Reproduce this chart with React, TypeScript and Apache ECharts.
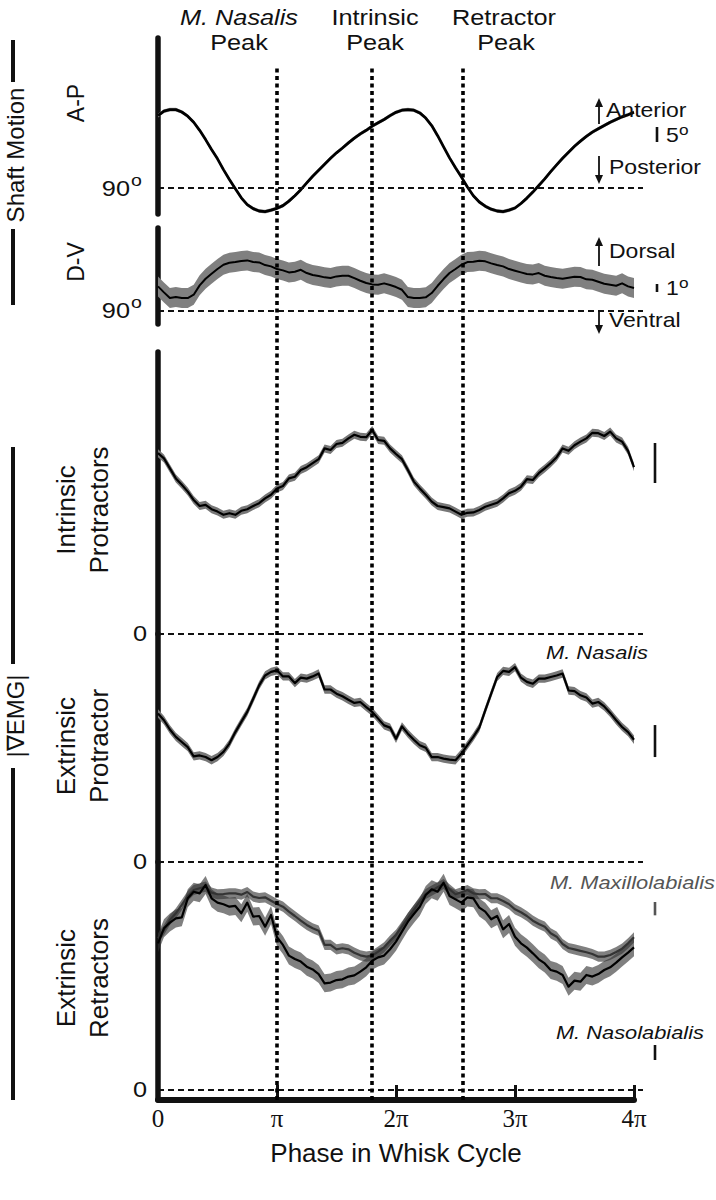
import React, { useEffect, useRef } from 'react';
import * as echarts from 'echarts';

// Phase in whisk cycle, in units of pi
const PHASE = [
  0, 0.05, 0.1, 0.15, 0.2, 0.25, 0.3, 0.35, 0.4, 0.45,
  0.5, 0.55, 0.6, 0.65, 0.7, 0.75, 0.8, 0.85, 0.9, 0.95,
  1.0, 1.05, 1.1, 1.15, 1.2, 1.25, 1.3, 1.35, 1.4, 1.45,
  1.5, 1.55, 1.6, 1.65, 1.7, 1.75, 1.8, 1.85, 1.9, 1.95,
  2.0, 2.05, 2.1, 2.15, 2.2, 2.25, 2.3, 2.35, 2.4, 2.45,
  2.5, 2.55, 2.6, 2.65, 2.7, 2.75, 2.8, 2.85, 2.9, 2.95,
  3.0, 3.05, 3.1, 3.15, 3.2, 3.25, 3.3, 3.35, 3.4, 3.45,
  3.5, 3.55, 3.6, 3.65, 3.7, 3.75, 3.8, 3.85, 3.9, 3.95,
  4.0,
];

// Shaft motion, anterior-posterior angle (deg)
const AP_DEG = [
  114.1, 115.6, 116.1, 116.1, 115.3, 113.9, 111.9, 109.2, 106.1, 102.8,
  99.7, 96.1, 92.8, 89.7, 86.7, 84.4, 83.1, 82.3, 82.1, 82.6,
  83.2, 84.1, 85.6, 87.4, 89.4, 91.7, 93.9, 95.9, 97.9, 99.9,
  101.7, 103.3, 105.0, 106.6, 108.0, 109.2, 110.6, 111.7, 112.8, 114.1,
  115.2, 115.9, 116.1, 115.9, 115.0, 113.3, 110.8, 107.4, 103.7, 100.0,
  96.7, 93.6, 90.3, 87.4, 85.3, 83.9, 82.9, 82.3, 82.1, 82.6,
  83.3, 84.8, 86.6, 88.6, 90.8, 93.0, 95.4, 97.7, 99.9, 101.9,
  103.9, 105.6, 107.2, 108.6, 109.7, 110.8, 111.9, 112.8, 113.7, 114.4,
  115.2,
];

// Shaft motion, dorsal-ventral angle (deg)
const DV_DEG = [
  93.0, 92.25, 91.54, 91.67, 91.54, 91.54, 91.96, 93.13, 93.96, 94.58,
  95.17, 95.71, 95.96, 96.04, 96.17, 96.25, 96.04, 96.0, 95.67, 95.5,
  95.17, 95.0, 94.75, 94.83, 95.08, 94.67, 94.42, 94.29, 94.13, 94.04,
  94.25, 94.33, 94.33, 94.04, 93.71, 93.42, 93.25, 93.21, 93.38, 93.17,
  92.92, 92.58, 91.67, 91.54, 91.54, 91.63, 92.17, 93.08, 93.92, 94.67,
  95.17, 95.71, 96.04, 96.08, 96.21, 96.13, 95.88, 95.67, 95.5, 95.17,
  94.96, 94.75, 94.54, 94.5, 94.67, 94.33, 94.17, 94.04, 93.96, 94.08,
  94.21, 94.17, 93.88, 93.83, 93.58, 93.33, 93.21, 93.08, 93.38, 93.0,
  92.79,
];

// |grad EMG| in scale-bar units
const INTRINSIC = [
  4.52, 4.39, 4.14, 3.89, 3.73, 3.56, 3.35, 3.2, 3.23, 3.12,
  3.06, 2.98, 3.02, 2.98, 3.08, 3.12, 3.2, 3.27, 3.39, 3.48,
  3.64, 3.7, 3.89, 3.93, 4.1, 4.17, 4.27, 4.37, 4.64, 4.6,
  4.75, 4.78, 4.89, 4.98, 4.93, 4.92, 5.1, 4.85, 4.83, 4.64,
  4.5, 4.37, 4.1, 3.81, 3.64, 3.48, 3.31, 3.2, 3.17, 3.14,
  3.06, 2.98, 3.03, 3.04, 3.1, 3.18, 3.23, 3.28, 3.39, 3.52,
  3.58, 3.68, 3.87, 3.85, 4.02, 4.14, 4.27, 4.42, 4.64, 4.58,
  4.72, 4.81, 4.89, 5.03, 5.02, 4.95, 5.06, 4.89, 4.81, 4.58,
  4.17,
];

const NASALIS = [
  4.64, 4.43, 4.14, 3.91, 3.75, 3.59, 3.3, 3.33, 3.28, 3.18,
  3.28, 3.44, 3.7, 4.06, 4.38, 4.69, 5.1, 5.52, 5.83, 5.94,
  5.99, 5.8, 5.8, 5.59, 5.76, 5.73, 5.8, 5.89, 5.39, 5.39,
  5.26, 5.18, 5.07, 4.97, 5.0, 4.84, 4.69, 4.48, 4.27, 4.2,
  3.85, 4.24, 4.01, 3.82, 3.65, 3.57, 3.28, 3.28, 3.23, 3.2,
  3.18, 3.39, 3.65, 3.91, 4.2, 4.74, 5.26, 5.78, 5.97, 5.94,
  6.09, 5.76, 5.63, 5.57, 5.73, 5.73, 5.78, 5.83, 5.89, 5.36,
  5.34, 5.21, 5.14, 4.95, 5.0, 4.86, 4.66, 4.43, 4.22, 4.06,
  3.82,
];

const NASOLABIALIS = [
  9.78, 10.78, 11.16, 11.44, 11.51, 12.78, 13.22, 13.11, 13.67, 12.78,
  12.49, 12.38, 12.22, 12.27, 11.78, 12.49, 11.56, 11.6, 10.89, 11.67,
  10.18, 9.67, 8.96, 8.73, 8.56, 8.22, 8.04, 7.73, 7.11, 7.16,
  7.33, 7.38, 7.56, 7.64, 7.89, 8.18, 8.62, 8.84, 8.96, 9.38,
  9.89, 10.56, 11.22, 11.73, 12.22, 13.0, 13.38, 13.22, 13.82, 12.93,
  12.71, 12.49, 12.84, 12.78, 12.16, 11.89, 11.38, 11.6, 10.71, 11.07,
  10.22, 9.78, 9.49, 9.11, 8.71, 8.44, 8.0, 7.89, 7.67, 6.89,
  7.29, 7.22, 7.67, 7.56, 7.73, 8.0, 8.18, 8.49, 8.84, 9.16,
  9.51,
];

const MAXILLOLABIALIS = [
  11.38, 12.0, 12.75, 13.25, 13.88, 14.55, 15.0, 15.13, 15.25, 14.8,
  14.68, 14.7, 14.75, 14.75, 14.65, 14.85, 14.5, 14.4, 14.45, 14.2,
  13.95, 13.75, 13.38, 13.05, 12.7, 12.38, 12.13, 11.95, 10.88, 10.88,
  10.55, 10.63, 10.55, 10.3, 10.1, 10.0, 10.08, 10.38, 10.7, 11.2,
  11.63, 12.25, 12.88, 13.5, 14.13, 14.7, 14.95, 15.2, 15.45, 15.05,
  14.68, 14.83, 15.0, 14.75, 14.68, 14.7, 14.38, 14.38, 14.18, 13.93,
  13.55, 13.33, 13.05, 12.7, 12.45, 12.25, 11.75, 11.5, 10.95, 10.65,
  10.55, 10.43, 10.33, 10.2, 10.0, 10.0, 10.13, 10.35, 10.6, 11.0,
  11.45,
];

// half-width of the shaded error bands
const AP_ERR = 0.6;
const DV_ERR = 1.25;
const INTRINSIC_ERR = 0.1;
const NASALIS_ERR = 0.13;
const NASOLABIALIS_ERR = 0.6;
const MAXILLOLABIALIS_ERR = 0.38;

// phases of the three peak markers (units of pi)
const PEAK_PHASES = [1, 1.8, 2.56];
const X_TICKS = [0, 1, 2, 3, 4];
const X_TICK_LABELS = ['0', 'π', '2π', '3π', '4π'];

// scale bars: [yAxisIndex, base value, length, x pixel]
const SCALE_BARS: [number, number, number, number][] = [
  [0, 105.3, 5, 657],
  [1, 92.3, 1, 657],
  [2, 3.775, 1, 655],
  [3, 3.28, 1, 655],
  [5, 13.1, 1, 655],
  [4, 2.0, 1, 655],
];

const FONT = "'Liberation Sans', Arial, Helvetica, sans-serif";
const SX = 1.15;
const EXT = 4 * (485 / 476); // panels extend a little beyond 4π

function band(axis: number, vals: number[], err: number, color: string) {
  return {
    type: 'custom',
    xAxisIndex: axis,
    yAxisIndex: axis,
    silent: true,
    clip: false,
    data: [[PHASE[0], vals[0]]],
    renderItem: (_p: any, api: any) => {
      const up = PHASE.map((p, i) => api.coord([p, vals[i] + err]));
      const lo = PHASE.map((p, i) => api.coord([p, vals[i] - err])).reverse();
      return { type: 'polygon', shape: { points: up.concat(lo) }, style: { fill: color } };
    },
  };
}

const hDash = (y: number) => ({
  silent: true,
  symbol: ['none', 'none'],
  label: { show: false },
  lineStyle: { type: [6, 4], width: 2, color: '#111' },
  data: [{ yAxis: y }],
});

function lineSeries(xi: number, yi: number, vals: number[], color: string, width: number, base?: number) {
  const s: any = {
    type: 'line',
    xAxisIndex: xi,
    yAxisIndex: yi,
    showSymbol: false,
    symbol: 'none',
    silent: true,
    data: PHASE.map((p, i) => [p, vals[i]]),
    lineStyle: { color, width, join: 'round' },
    z: 3,
  };
  if (base !== undefined) s.markLine = hDash(base);
  return s;
}

function txt(text: string, x: number, y: number, o: any = {}) {
  return {
    type: 'text',
    x,
    y,
    rotation: o.rot ? Math.PI / 2 : 0,
    scaleX: o.rot ? 1 : SX,
    z: 100,
    style: {
      text,
      fontSize: o.size ?? 20,
      fontFamily: o.family ?? FONT,
      fontStyle: o.italic ? 'italic' : 'normal',
      fill: o.color ?? '#111',
      align: o.align ?? 'left',
      verticalAlign: 'middle',
    },
  };
}

function vline(x: number, y1: number, y2: number, w: number, color = '#111') {
  return { type: 'line', z: 100, shape: { x1: x, y1, x2: x, y2 }, style: { stroke: color, lineWidth: w } };
}

function arrow(x: number, yTail: number, yHead: number) {
  const dir = yHead < yTail ? 1 : -1;
  return [
    vline(x, yTail, yHead + dir * 6, 1.8),
    {
      type: 'polygon',
      z: 100,
      shape: { points: [[x, yHead], [x - 4, yHead + dir * 9], [x + 4, yHead + dir * 9]] },
      style: { fill: '#111' },
    },
  ];
}

export default function App() {
  const ref = useRef<HTMLDivElement>(null);
  useEffect(() => {
    document.body.style.margin = '0';
    const chart = echarts.init(ref.current!, null, { renderer: 'svg' });

    const gridsY = [
      [38, 176],
      [228, 96],
      [352, 282],
      [634, 228],
      [862, 238],
    ];
    const grids: any[] = gridsY.map(([top, height]) => ({ left: 158, width: 485, top, height }));
    grids.push({ left: 158, width: 476, top: 65, height: 1035 });

    const yRanges = [
      [81.3, 139.97],
      [88.3, 100.3],
      [0, 7.05],
      [0, 7.125],
      [-0.667, 15.2],
    ];
    const yAxisLine = { show: true, lineStyle: { color: '#111', width: 5.5 } };
    const yAxes: any[] = yRanges.map(([min, max], i) => ({
      type: 'value',
      gridIndex: i,
      min,
      max,
      axisLine: yAxisLine,
      axisTick: { show: false },
      axisLabel: { show: false },
      splitLine: { show: false },
    }));
    yAxes.push({ type: 'value', gridIndex: 4, min: -0.75, max: 17.1, show: false });
    yAxes.push({ type: 'value', gridIndex: 5, min: 0, max: 1, show: false });

    const xAxes: any[] = [0, 1, 2, 3, 4].map((i) => ({
      type: 'value',
      gridIndex: i,
      min: 0,
      max: EXT,
      show: false,
    }));
    xAxes.push({
      type: 'value',
      gridIndex: 5,
      min: 0,
      max: 4,
      interval: 1,
      axisLine: { show: true, lineStyle: { color: '#111', width: 6 } },
      axisTick: { show: true, inside: true, length: 15, lineStyle: { color: '#111', width: 3 } },
      axisLabel: {
        formatter: (v: number) => X_TICK_LABELS[X_TICKS.indexOf(v)] ?? '',
        fontFamily: "'Liberation Serif', 'Times New Roman', serif",
        fontSize: 25,
        color: '#111',
        margin: 6,
      },
      splitLine: { show: false },
      name: 'Phase in Whisk Cycle',
      nameLocation: 'middle',
      nameGap: 40,
      nameTextStyle: { fontFamily: FONT, fontSize: 26, color: '#111' },
    });

    const retractorBand = 'rgba(50,50,50,0.62)';
    const series: any[] = [
      band(0, AP_DEG, AP_ERR, '#9a9a9a'),
      lineSeries(0, 0, AP_DEG, '#000', 2.8, 90),
      band(1, DV_DEG, DV_ERR, '#808080'),
      lineSeries(1, 1, DV_DEG, '#000', 2, 90),
      band(2, INTRINSIC, INTRINSIC_ERR, '#777'),
      lineSeries(2, 2, INTRINSIC, '#000', 2.2, 0),
      band(3, NASALIS, NASALIS_ERR, '#777'),
      lineSeries(3, 3, NASALIS, '#000', 2.2, 0),
      band(4, NASOLABIALIS, NASOLABIALIS_ERR, retractorBand),
      { ...band(5, MAXILLOLABIALIS, MAXILLOLABIALIS_ERR, retractorBand), xAxisIndex: 4, yAxisIndex: 5 },
      lineSeries(4, 5, MAXILLOLABIALIS, '#333', 2.2),
      lineSeries(4, 4, NASOLABIALIS, '#000', 2.2, 0),
      {
        type: 'line',
        xAxisIndex: 5,
        yAxisIndex: 6,
        data: [[0, 0.5]],
        symbol: 'none',
        lineStyle: { opacity: 0 },
        silent: true,
        z: 10,
        markLine: {
          silent: true,
          symbol: ['none', 'none'],
          label: { show: false },
          lineStyle: { type: [4, 3.5], width: 3.6, color: '#000' },
          data: PEAK_PHASES.map((p) => ({ xAxis: p })),
        },
      },
    ];

    chart.setOption({
      animation: false,
      backgroundColor: '#fff',
      grid: grids,
      xAxis: xAxes,
      yAxis: yAxes,
      series,
    });

    const g: any[] = [];
    // header
    g.push(txt('M. Nasalis', 239, 18, { size: 22, italic: true, align: 'center' }));
    g.push(txt('Peak', 239, 43, { size: 22, align: 'center' }));
    g.push(txt('Intrinsic', 375, 18, { size: 22, align: 'center' }));
    g.push(txt('Peak', 375, 43, { size: 22, align: 'center' }));
    g.push(txt('Retractor', 504, 18, { size: 22, align: 'center' }));
    g.push(txt('Peak', 506, 43, { size: 22, align: 'center' }));
    // left group labels
    g.push(txt('Shaft Motion', 15, 155, { size: 24, rot: true, align: 'center' }));
    g.push(vline(13, 40, 82, 4));
    g.push(vline(13, 229, 305, 4));
    g.push(txt('|∇EMG|', 15, 716, { size: 24, rot: true, align: 'center' }));
    g.push(vline(13, 447, 664, 4));
    g.push(vline(13, 768, 1100, 4));
    g.push(txt('A-P', 76, 103, { size: 23, rot: true, align: 'center' }));
    g.push(txt('D-V', 76, 262, { size: 23, rot: true, align: 'center' }));
    g.push(txt('Intrinsic', 66, 510, { size: 26, rot: true, align: 'center' }));
    g.push(txt('Protractors', 99, 510, { size: 26, rot: true, align: 'center' }));
    g.push(txt('Extrinsic', 66, 746, { size: 26, rot: true, align: 'center' }));
    g.push(txt('Protractor', 99, 746, { size: 26, rot: true, align: 'center' }));
    g.push(txt('Extrinsic', 66, 978, { size: 26, rot: true, align: 'center' }));
    g.push(txt('Retractors', 99, 978, { size: 26, rot: true, align: 'center' }));
    // baseline labels
    for (const y of [189, 311]) {
      g.push(txt('90', 130, y, { size: 22, align: 'right' }));
      g.push(txt('o', 131, y - 9, { size: 17, align: 'left' }));
    }
    for (const y of [634, 862, 1090]) g.push(txt('0', 147, y, { size: 22, align: 'right' }));
    // direction labels
    g.push(...arrow(599, 124, 98));
    g.push(txt('Anterior', 606, 110, { size: 20 }));
    g.push(...arrow(599, 156, 184));
    g.push(txt('Posterior', 609, 167, { size: 20 }));
    g.push(txt('5', 666, 135, { size: 20 }));
    g.push(txt('o', 679, 129, { size: 15 }));
    g.push(...arrow(599, 266, 237));
    g.push(txt('Dorsal', 609, 251, { size: 20 }));
    g.push(...arrow(599, 311, 334));
    g.push(txt('Ventral', 609, 320, { size: 20 }));
    g.push(txt('1', 666, 288, { size: 20 }));
    g.push(txt('o', 679, 282, { size: 15 }));
    // muscle names
    g.push(txt('M. Nasalis', 648, 652, { size: 19, italic: true, align: 'right' }));
    g.push(txt('M. Maxillolabialis', 715, 882, { size: 19, italic: true, align: 'right', color: '#555' }));
    g.push(txt('M. Nasolabialis', 704, 1032, { size: 19, italic: true, align: 'right' }));
    // scale bars through the y axes
    for (const [yi, base, len, x] of SCALE_BARS) {
      const y1 = chart.convertToPixel({ yAxisIndex: yi } as any, base) as unknown as number;
      const y2 = chart.convertToPixel({ yAxisIndex: yi } as any, base + len) as unknown as number;
      g.push(vline(x, y1, y2, 2.6, yi === 5 ? '#555' : '#111'));
    }
    chart.setOption({ graphic: g });

    return () => chart.dispose();
  }, []);
  return <div ref={ref} style={{ width: 716, height: 1200 }} />;
}
